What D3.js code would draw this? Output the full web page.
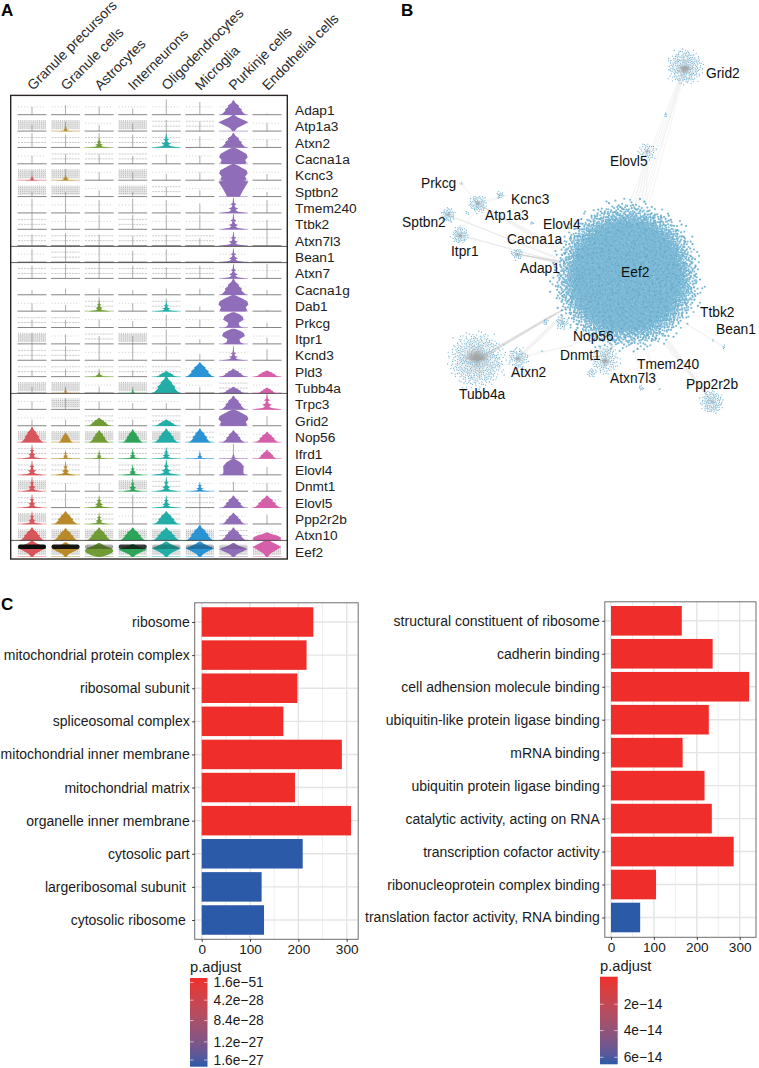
<!DOCTYPE html>
<html><head><meta charset="utf-8">
<script src="https://cdn.jsdelivr.net/npm/d3@7"></script>
<style>html,body{margin:0;padding:0;background:#fff}svg{display:block}text{font-family:"Liberation Sans",Arial,sans-serif;fill:#1a1a1a}</style>
</head><body><svg id="c" width="759" height="1068"></svg>
<script>
// ---------- Panel A data ----------
const cellTypes=["Granule precursors","Granule cells","Astrocytes","Interneurons","Oligodendrocytes","Microglia","Purkinje cells","Endothelial cells"];
const cellColors=["#d8575a","#b98a2c","#6f9b35","#2fa45a","#20ada6","#2b93d3","#8f6db8","#d560a9"];
const genes=["Adap1","Atp1a3","Atxn2","Cacna1a","Kcnc3","Sptbn2","Tmem240","Ttbk2","Atxn7l3","Bean1","Atxn7","Cacna1g","Dab1","Prkcg","Itpr1","Kcnd3","Pld3","Tubb4a","Trpc3","Grid2","Nop56","Ifrd1","Elovl4","Dnmt1","Elovl5","Ppp2r2b","Atxn10","Eef2"];
const bodyShape=["......T.",".S....D.","..S.S.T.","......B.","SS....B.","......V.","......S.","......S.","......S.","......S.","......S.","......T.","..S.S.B.","......H.","......H.","......S.","..S.TTTT",".S.ST.TT","......TS","..T.T.B.","TTTTTTTT","SSSSSSST","SS.SS.O.","S..SSS..","S.S.S.TT","STS.T.T.","TTTTTTTN","DDEDDDDD"];
const bodyHeight=[
[0,0,0,0,0,0,.9,0],[0,.35,0,0,0,0,1,0],[0,0,.6,0,.85,0,.9,0],[0,0,0,0,0,0,1,0],[.3,.35,0,0,0,0,1,0],[0,0,0,0,0,0,1.05,0],[0,0,0,0,0,0,.95,0],[0,0,0,0,0,0,.95,0],[0,0,0,0,0,0,.85,0],[0,0,0,0,0,0,.85,0],[0,0,0,0,0,0,.9,0],[0,0,0,0,0,0,1,0],[0,0,.7,0,.6,0,1,0],[0,0,0,0,0,0,.95,0],[0,0,0,0,0,0,.95,0],[0,0,0,0,0,0,.75,0],[0,0,.3,0,.35,.9,.5,.4],[0,.35,0,.3,1.05,0,.4,.35],[0,0,0,0,0,0,.85,1],[0,0,.5,0,.4,0,1,0],[.95,.6,.75,.8,.85,.85,.75,.65],[.85,.55,.55,.6,.7,.5,.35,.55],[.9,.85,0,.65,.95,0,1,0],[.9,0,0,.8,.9,.6,0,0],[.85,0,.75,0,.75,0,.75,.75],[.8,.8,.7,0,.8,0,.7,0],[.8,.75,.8,.8,.8,.95,.8,.5],[1,.9,.85,.8,.95,.95,.85,1.1]];
const bodyWidth=[
[0,0,0,0,0,0,.95,0],[0,.5,0,0,0,0,1,0],[0,0,.8,0,.95,0,.95,0],[0,0,0,0,0,0,.95,0],[.5,.7,0,0,0,0,.95,0],[0,0,0,0,0,0,1,0],[0,0,0,0,0,0,.95,0],[0,0,0,0,0,0,.9,0],[0,0,0,0,0,0,.9,0],[0,0,0,0,0,0,.9,0],[0,0,0,0,0,0,.85,0],[0,0,0,0,0,0,.95,0],[0,0,.7,0,.85,0,1,0],[0,0,0,0,0,0,.85,0],[0,0,0,0,0,0,.95,0],[0,0,0,0,0,0,.9,0],[0,0,.8,0,.8,1,.95,.95],[0,.3,0,.3,1,0,.85,.7],[0,0,0,0,0,0,.9,.95],[0,0,.85,0,.85,0,1,0],[.8,.5,.7,.7,.85,.8,.8,.85],[.7,.5,.5,.6,.75,.5,.45,.7],[.8,.7,0,.7,.9,0,.95,0],[.7,0,0,.65,.8,.7,0,0],[.7,0,.8,0,.8,0,.85,1],[.7,.85,.7,0,.9,0,.85,0],[.9,.9,.9,.95,1,1,.95,.95],[.95,.9,.95,.95,.95,.95,.95,.95]];
const stemHeight=[
[.5,.6,.5,.4,.95,.8,0,.1],[.4,.6,.4,.5,.7,.6,0,.5],[.9,.8,.9,.8,1,.7,0,.5],[.5,.6,.6,.5,.6,.5,0,0],[.6,.7,.5,.5,.4,.5,0,.4],[.3,.3,.4,.3,.6,.4,0,.3],[.9,1,.8,.9,.8,.6,0,.8],[1,.9,.9,.9,.9,.9,0,.6],[.7,.8,.7,.6,.7,.5,0,1],[.8,1,1,.7,.8,0,0,0],[.8,.9,1,.8,.7,.8,0,.9],[.3,.4,.4,.3,.4,.4,0,.3],[.5,.4,.9,.5,.8,.3,0,.1],[.5,.5,.5,.4,.8,.5,0,.3],[.7,.6,.5,.5,.9,.3,0,.4],[1,.9,1,1,.9,.4,.9,.7],[.4,.5,.5,.4,.4,0,0,0],[.4,.4,.4,.4,0,.4,0,0],[.5,.7,.5,.4,.4,1,0,0],[.4,.4,0,.4,0,.6,0,.6],[0,0,0,0,0,0,0,0],[0,0,0,0,0,0,.9,0],[0,0,1,0,0,.9,0,.5],[0,.5,.5,0,0,0,.6,.5],[0,.9,0,.8,0,.9,0,.2],[0,0,0,1,0,1,0,.6],[0,0,0,0,0,0,0,0],[0,0,0,0,0,0,0,0]];
const dotDensity=[
[1,1,1,1,1,1,1,0],[3,3,1,3,2,2,1,1],[2,2,2,2,2,1,1,1],[1,2,2,2,1,1,1,0],[3,3,1,3,1,1,1,1],[3,3,1,3,2,1,1,1],[1,1,1,1,1,0,1,1],[2,1,1,2,1,1,1,1],[2,2,2,2,2,2,1,1],[1,2,1,1,1,0,1,0],[2,2,2,2,2,2,1,1],[0,0,0,0,0,0,1,0],[1,1,2,1,2,0,1,0],[2,2,1,1,1,1,1,0],[3,1,2,3,1,1,1,1],[2,2,1,1,1,0,1,0],[2,2,2,2,2,1,1,0],[3,3,1,3,2,1,2,1],[1,3,1,1,1,0,1,0],[1,1,2,1,2,0,1,0],[3,3,3,3,3,2,1,1],[2,2,2,2,2,1,1,1],[2,2,1,2,2,1,1,0],[3,1,1,3,2,1,1,1],[2,1,2,2,2,2,1,1],[3,2,2,1,2,1,1,0],[3,3,3,3,3,3,2,1],[3,3,3,3,3,3,3,3]];
const eef2DarkBand=[1,.95,.3,.8,.25,.25,.12,0];
const rowDividerY=[246.4,262.6,393.4,540.4];
// violin outlines: [fraction of height, fraction of half width]
const profiles={
 S:[[0,1],[.05,.72],[.1,.32],[.2,.14],[.3,.34],[.38,.12],[.52,.07],[.58,.22],[.66,.06],[1,.02]],
 T:[[0,1],[.07,.8],[.14,.72],[.3,.55],[.38,.6],[.55,.36],[.62,.4],[.82,.14],[1,.03]],
 B:[[0,.8],[.08,.92],[.25,.82],[.42,1],[.62,.92],[.8,.55],[.92,.3],[1,.08]],
 D:[[0,.06],[.2,.25],[.38,.62],[.55,1],[.68,.72],[.84,.3],[1,.05]],
 E:[[0,.1],[.12,.55],[.3,.9],[.45,1],[.62,.85],[.8,.4],[1,.05]],
 N:[[0,.7],[.15,1],[.42,.95],[.65,.65],[.82,.3],[1,.05]],
 V:[[0,.42],[.22,.55],[.5,.72],[.72,.88],[.88,1],[1,.55]],
 H:[[0,.78],[.12,.48],[.32,.42],[.52,.8],[.72,.72],[.85,.5],[1,.1]],
 O:[[0,1],[.08,.72],[.22,.7],[.55,.72],[.78,.5],[.92,.22],[1,.06]]
};
// ---------- Panel B data (network layout units) ----------
const hubNames=["Eef2","Grid2","Elovl5","Atp1a3","Kcnc3","Prkcg","Sptbn2","Itpr1","Adap1","Tubb4a","Atxn2","Nop56","Dnmt1","Atxn7l3","Tmem240","Ppp2r2b","Bean1","Ttbk2","Cacna1a","Elovl4","Unk1","Unk2","Unk3","Unk4","Unk5"];
const hubX=[237,295,257,88,110,71,58,70,127,87,128,215,202,251,269,322,334,323,172,142,77,156,173,152,276];
const hubY=[246,37,122,174,165,153,185,205,224,330,328,330,343,358,359,372,317,310,293,193,183,292,293,321,85];
const hubRadius=[69,18.5,10,9.5,4,2,7.5,9,6,29,11,15,5,3,1.2,12,2,1.2,7,1.8,2,3,1.5,1,1.8];
const hubLeaves=[7600,230,45,70,14,3,50,65,32,480,75,120,18,8,2,110,4,2,36,5,4,9,3,2,5];
const linkFrom=["Grid2","Grid2","Elovl5","Tubb4a","Atxn2","Atxn2","Adap1","Itpr1","Sptbn2","Atp1a3","Atp1a3","Atp1a3","Itpr1","Nop56","Ppp2r2b","Bean1","Atxn7l3","Tmem240","Cacna1a"];
const linkToX=[245,257,250,172,170,183,170,168,167,170,117,71,88,220,275,290,245,255,172];
const linkToY=[175,175,175,280,288,315,232,232,228,220,165,153,174,310,310,290,315,315,285];
const linkSpread=[16,4,12,22,10,1,6,2,2,8,1,1,1,26,6,1,2,2,3];
const linkStrands=[5,2,4,14,6,2,10,3,3,6,2,2,2,16,8,2,2,2,4];
const networkLabels=["Grid2","Elovl5","Prkcg","Kcnc3","Atp1a3","Elovl4","Sptbn2","Cacna1a","Itpr1","Adap1","Eef2","Ttbk2","Bean1","Nop56","Dnmt1","Tmem240","Atxn2","Atxn7l3","Ppp2r2b","Tubb4a"];
const labelX=[316,220,31,121,95,153,12,117,61,130,231,310,326,183,170,247,121,220,296,69];
const labelY=[43,131,153,169,185,194,192,209,221,238,242,282,299,306,325,334,342,348,354,364];
// ---------- Panel C data ----------
const ccTerms=["ribosome","mitochondrial protein complex","ribosomal subunit","spliceosomal complex","mitochondrial inner membrane","mitochondrial matrix","organelle inner membrane","cytosolic part","largeribosomal subunit ","cytosolic ribosome "];
const ccCounts=[231,217,198,169,290,193,309,209,124,129];
const ccAdjust=[0,0,0,0,0,0,0,1,1,1];
const mfTerms=["structural constituent of ribosome","cadherin binding","cell adhension molecule binding","ubiquitin-like protein ligase binding","mRNA binding","ubiquitin protein ligase binding","catalytic activity, acting on RNA","transcription cofactor activity","ribonucleoprotein complex binding","translation factor activity, RNA binding"];
const mfCounts=[165,237,322,228,167,218,235,286,105,68];
const mfAdjust=[0,0,0,0,0,0,0,0,0,1];
const ccLegendLabels=["1.6e\u221251","4.2e\u221228","8.4e\u221228","1.2e\u221227","1.6e\u221227"];
const ccLegendStops=[.05,.25,.48,.72,.925];
const mfLegendLabels=["2e\u221214","4e\u221214","6e\u221214"];
const mfLegendStops=[.315,.615,.92];

const svg=d3.select("#c");
const RED="#ef2e2c",BLUE="#2a5aa8";
const adjustColor=d3.scaleLinear().domain([0,1]).range([RED,BLUE]).interpolate(d3.interpolateLab);
const defs=svg.append("defs");
defs.append("linearGradient").attr("id","pg").attr("x1",0).attr("x2",0).attr("y1",0).attr("y2",1)
 .selectAll("stop").data(d3.range(0,1.01,.1)).join("stop").attr("offset",d=>d).attr("stop-color",d=>adjustColor(d));
defs.append("filter").attr("id","soft").attr("x",0).attr("y",0).attr("width",1).attr("height",1).attr("filterUnits","objectBoundingBox")
 .append("feGaussianBlur").attr("stdDeviation",.4);

const panelLabel=(t,x,y)=>svg.append("text").text(t).attr("x",x).attr("y",y).attr("font-size",17).attr("font-weight","bold").style("fill","#000");
panelLabel("A",1,16);panelLabel("B",401,16);panelLabel("C",1,610);

// ---------- Panel A ----------
const A=svg.append("g");
const V=A.append("g").attr("filter","url(#soft)");
const xCell=d3.scalePoint().domain(cellTypes).range([32,267]);
const yGene=d3.scalePoint().domain(genes).range([115,557]);
const rowH=yGene.step(),halfW=15;
cellTypes.forEach((c,j)=>{
 A.append("text").text(c).attr("font-size",14).attr("transform",`translate(${xCell(c)+1},91) rotate(-45)`).style("fill","#2a2a2a");
});
const area=d3.area().curve(d3.curveLinear);
genes.forEach((g,i)=>{
 const base=yGene(g);
 cellTypes.forEach((c,j)=>{
  const cx=xCell(c),dens=dotDensity[i][j],st=stemHeight[i][j],sh=bodyShape[i][j];
  const cell=V.append("g");
  const hline=(f,op,w,da)=>cell.append("line").attr("x1",cx-14).attr("x2",cx+14).attr("y1",base-f*rowH).attr("y2",base-f*rowH)
     .attr("stroke","#a4a4a4").attr("stroke-width",w).attr("stroke-opacity",op).attr("stroke-dasharray",da);
  if(dens===3){
   cell.append("rect").attr("x",cx-14).attr("width",28).attr("y",base-rowH*.62).attr("height",rowH*.5).attr("fill","#d8d8d8").attr("opacity",.6);
   [.2,.32,.44,.56,.66].forEach(f=>hline(f,.9,.8,"1 1.1"));
  }else if(dens===2){hline(.32,.85,.7,"2 .9");hline(.62,.8,.7,"2 .9");}
  else if(dens===1){hline(.5,.7,.7,"1.1 2");}
  if(st>0){
   cell.append("line").attr("x1",cx).attr("x2",cx).attr("y1",base).attr("y2",base-st*rowH).attr("stroke","#8a8a8a").attr("stroke-width",.7);
  }
  cell.append("line").attr("x1",cx-14.5).attr("x2",cx+14.5).attr("y1",base-.3).attr("y2",base-.3).attr("stroke",sh==="."?"#858585":cellColors[j]).attr("stroke-width",sh==="."?1:.8).attr("stroke-opacity",sh==="."?1:.7);
  if(sh!=="."){
   const h=bodyHeight[i][j]*rowH,w=bodyWidth[i][j]*halfW;
   cell.append("path").attr("fill",cellColors[j]).attr("d",area.x0(d=>cx-d[1]*w).x1(d=>cx+d[1]*w).y(d=>base-d[0]*h)(profiles[sh]));
  }
  if(g==="Eef2"&&eef2DarkBand[j]>0){
   cell.append("rect").attr("x",cx-14).attr("width",28).attr("y",base-12.6).attr("height",4.6).attr("rx",2).attr("fill","#0c0c0c").attr("opacity",eef2DarkBand[j]);
  }
 });
 A.append("text").text(g).attr("x",295).attr("y",base-5).attr("dy",".35em").attr("font-size",13.7).style("fill","#222");
});
rowDividerY.forEach(yy=>{
 A.append("line").attr("x1",11).attr("x2",287).attr("y1",yy).attr("y2",yy).attr("stroke","#4a4a4a").attr("stroke-width",.9);
});
A.append("rect").attr("x",10.7).attr("y",95.4).attr("width",276.6).attr("height",463.6).attr("fill","none").attr("stroke","#2a2522").attr("stroke-width",1.4);

// ---------- Panel B ----------
const B=svg.append("g");
const netX=d3.scaleLinear().domain([0,369]).range([390,759]);
const netY=d3.scaleLinear().domain([0,369]).range([30,399]);
const hubAt=n=>hubNames.indexOf(n);
// deterministic van der Corput sequence spreads the leaves of each hub
const vdc=(n,b)=>{let v=0,f=1/b;while(n>0){v+=f*(n%b);n=Math.floor(n/b);f/=b;}return v;};
const nodes=[];
hubNames.forEach((n,h)=>{
 const R=hubRadius[h],m=hubLeaves[h],cx=netX(hubX[h]),cy=netY(hubY[h]);
 d3.range(m).forEach(k=>{
  const a=vdc(k+1+h*17,2)*2*Math.PI,u=vdc(k+1+h*29,3);
  const edge=1+.012*Math.sin(3*a+h)+.01*Math.sin(7*a+2*h);
  const rr=R*(.88*Math.sqrt(u)+.17*Math.pow(u,10)+(u>.985?(u-.985)*5:0))*edge;
  nodes.push({hub:h,cx,cy,R,x:cx+rr*Math.cos(a),y:cy+rr*Math.sin(a)});
 });
});
const sim=d3.forceSimulation(nodes)
 .force("collide",d3.forceCollide(d=>0.45*d.R/Math.sqrt(hubLeaves[d.hub])+.3).strength(.4).iterations(1))
 .stop();
sim.tick(8);
let edgePath=d3.path();
nodes.forEach((d,k)=>{ if(d.hub>0){edgePath.moveTo(d.cx,d.cy);edgePath.lineTo(d.x,d.y);} });
B.append("path").attr("d",edgePath.toString()).attr("fill","none").attr("stroke","#bcbcbc").attr("stroke-opacity",.2).attr("stroke-width",.3);
let linkPath=d3.path();
linkFrom.forEach((n,l)=>{
 const h=hubAt(n),s=linkStrands[l],sp=linkSpread[l];
 d3.range(s).forEach(q=>{
  const f=s>1?q/(s-1)-.5:0;
  linkPath.moveTo(netX(hubX[h])+f*2,netY(hubY[h])+f*2);
  linkPath.lineTo(netX(linkToX[l])+f*sp,netY(linkToY[l])-f*sp*.5);
 });
});
B.append("path").attr("d",linkPath.toString()).attr("fill","none").attr("stroke","#cfcfcf").attr("stroke-opacity",.5).attr("stroke-width",.4);
const leafShade=["#7ab9d7","#80bcd8","#72b2d0","#7ab9d7","#86c0da","#6ba9c6","#7ab9d6"];
B.append("g").selectAll("circle").data(nodes).join("circle")
 .attr("cx",d=>d.x).attr("cy",d=>d.y).attr("r",d=>d.hub===0?1.08:.65).attr("fill",(d,k)=>leafShade[k%7]);
// gray core of the hubs, where edges sit on top of nodes
let coreEdges=d3.path();
nodes.forEach((d,k)=>{ if(d.hub>0&&d.hub<12&&(k%2===0)){const t=.45;coreEdges.moveTo(d.cx,d.cy);coreEdges.lineTo(d.cx+(d.x-d.cx)*t,d.cy+(d.y-d.cy)*t);} });
B.append("path").attr("d",coreEdges.toString()).attr("fill","none").attr("stroke","#a8a8a8").attr("stroke-opacity",.4).attr("stroke-width",.4);
networkLabels.forEach((t,i)=>{
 B.append("text").text(t).attr("x",netX(labelX[i])).attr("y",netY(labelY[i])).attr("dy",".35em").attr("font-size",13.8).style("fill","#111");
});

// ---------- Panel C ----------
function barPanel(o){
 const g=svg.append("g");
 const x=d3.scaleLinear().domain([0,100]).range([o.x0,o.x0+o.per100]);
 const y=d3.scalePoint().domain(o.terms).range([o.y0,o.y1]);
 const h=o.barH;
 const top=o.top,bottom=o.bottom,left=o.left,right=o.right;
 g.append("rect").attr("x",left).attr("y",top).attr("width",right-left).attr("height",bottom-top).attr("fill","#fff");
 const minor=[50,150,250],major=[0,100,200,300];
 minor.forEach(v=>g.append("line").attr("x1",x(v)).attr("x2",x(v)).attr("y1",top).attr("y2",bottom).attr("stroke","#ebebeb").attr("stroke-width",.8));
 major.forEach(v=>g.append("line").attr("x1",x(v)).attr("x2",x(v)).attr("y1",top).attr("y2",bottom).attr("stroke","#e4e4e4").attr("stroke-width",1.4));
 o.terms.forEach(t=>g.append("line").attr("x1",left).attr("x2",right).attr("y1",y(t)).attr("y2",y(t)).attr("stroke","#e4e4e4").attr("stroke-width",1.4));
 g.selectAll("rect.bar").data(o.terms).join("rect").attr("class","bar").attr("x",x(0)).attr("y",t=>y(t)-h/2).attr("height",h)
  .attr("width",(t,i)=>x(o.counts[i])-x(0)).attr("fill",(t,i)=>adjustColor(o.adjust[i]));
 g.append("rect").attr("x",left).attr("y",top).attr("width",right-left).attr("height",bottom-top).attr("fill","none").attr("stroke","#6e6e6e").attr("stroke-width",1);
 const ax=g.append("g").attr("transform",`translate(0,${bottom})`).call(d3.axisBottom(x).tickValues(major).tickSize(2.5).tickPadding(3));
 ax.select(".domain").remove();
 ax.selectAll("line").attr("stroke","#333");
 ax.selectAll("text").attr("font-size",13.6).attr("font-family",'"Liberation Sans"').style("fill","#1a1a1a");
 const ay=g.append("g").attr("transform",`translate(${left},0)`).call(d3.axisLeft(y).tickSize(2.5).tickPadding(2.5));
 ay.select(".domain").remove();
 ay.selectAll("line").attr("stroke","#333");
 ay.selectAll("text").attr("font-size",14).attr("font-family",'"Liberation Sans"').style("fill","#1a1a1a").style("white-space","pre");
 // legend
 const L=o.legend;
 g.append("text").text("p.adjust").attr("x",L.x).attr("y",L.titleY).attr("dy",".35em").attr("font-size",14.7);
 const ly=d3.scaleLinear().domain([0,1]).range([L.top,L.bottom]);
 g.append("rect").attr("x",L.x).attr("y",L.top).attr("width",L.w).attr("height",L.bottom-L.top).attr("fill","url(#pg)");
 L.stops.forEach((s,i)=>{
  g.append("line").attr("x1",L.x).attr("x2",L.x+3.5).attr("y1",ly(s)).attr("y2",ly(s)).attr("stroke","#fff").attr("stroke-width",.6);
  g.append("line").attr("x1",L.x+L.w-3.5).attr("x2",L.x+L.w).attr("y1",ly(s)).attr("y2",ly(s)).attr("stroke","#fff").attr("stroke-width",.6);
  g.append("text").text(L.labels[i]).attr("x",L.x+L.w+6).attr("y",ly(s)).attr("dy",".35em").attr("font-size",13.8);
 });
}
barPanel({terms:ccTerms,counts:ccCounts,adjust:ccAdjust,x0:201.7,per100:48.33,y0:622,y1:920,barH:29.5,left:194.7,right:358.2,top:602.8,bottom:939.3,
 legend:{x:190,titleY:966.7,top:978,bottom:1066.7,w:17.5,labels:ccLegendLabels,stops:ccLegendStops}});
barPanel({terms:mfTerms,counts:mfCounts,adjust:mfAdjust,x0:611,per100:42.9,y0:620.8,y1:917.5,barH:29.6,left:604.8,right:756,top:601.8,bottom:937.3,
 legend:{x:600,titleY:965.7,top:976.7,bottom:1064.3,w:17.7,labels:mfLegendLabels,stops:mfLegendStops}});
</script></body></html>
